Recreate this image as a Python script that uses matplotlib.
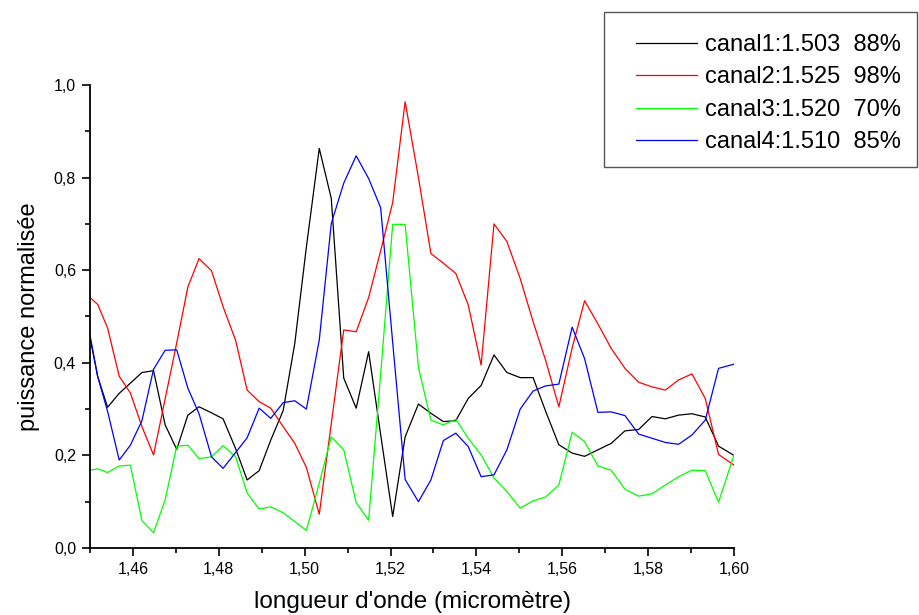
import matplotlib
matplotlib.use("Agg")
import matplotlib.pyplot as plt
from matplotlib.patches import Rectangle
from matplotlib.ticker import MultipleLocator, FixedLocator, FuncFormatter

plt.rcParams['font.family'] = ['Liberation Sans', 'DejaVu Sans']

wavelength = [1.4500, 1.4518, 1.4541, 1.4568, 1.4594, 1.4621, 1.4648, 1.4675, 1.4702, 1.4728,
              1.4754, 1.4783, 1.4810, 1.4839, 1.4866, 1.4894, 1.4921, 1.4950, 1.4977, 1.5004,
              1.5034, 1.5062, 1.5091, 1.5120, 1.5149, 1.5177, 1.5205, 1.5234, 1.5265, 1.5294,
              1.5323, 1.5352, 1.5381, 1.5411, 1.5441, 1.5471, 1.5502, 1.5532, 1.5561, 1.5592,
              1.5623, 1.5652, 1.5683, 1.5714, 1.5746, 1.5778, 1.5809, 1.5840, 1.5871, 1.5902,
              1.5933, 1.5964, 1.6000]

canal1 = [0.454, 0.370, 0.304, 0.334, 0.356, 0.379, 0.383, 0.266, 0.213, 0.287,
          0.305, 0.292, 0.279, 0.215, 0.147, 0.167, 0.233, 0.297, 0.442, 0.650,
          0.863, 0.755, 0.367, 0.302, 0.424, 0.245, 0.068, 0.240, 0.311, 0.291,
          0.273, 0.275, 0.323, 0.351, 0.417, 0.379, 0.368, 0.368, 0.296, 0.223,
          0.205, 0.198, 0.212, 0.226, 0.253, 0.256, 0.284, 0.279, 0.287, 0.290,
          0.283, 0.220, 0.200]

canal2 = [0.541, 0.526, 0.475, 0.371, 0.335, 0.262, 0.201, 0.322, 0.443, 0.564,
          0.625, 0.599, 0.521, 0.449, 0.341, 0.316, 0.302, 0.262, 0.226, 0.174,
          0.073, 0.269, 0.471, 0.467, 0.541, 0.642, 0.746, 0.964, 0.800, 0.636,
          0.615, 0.593, 0.525, 0.395, 0.700, 0.662, 0.582, 0.489, 0.406, 0.305,
          0.432, 0.534, 0.484, 0.431, 0.388, 0.358, 0.348, 0.341, 0.363, 0.376,
          0.323, 0.202, 0.179]

canal3 = [0.168, 0.171, 0.163, 0.177, 0.179, 0.059, 0.033, 0.104, 0.220, 0.222,
          0.193, 0.197, 0.221, 0.197, 0.119, 0.084, 0.089, 0.076, 0.057, 0.038,
          0.140, 0.240, 0.212, 0.098, 0.060, 0.376, 0.699, 0.699, 0.390, 0.276,
          0.266, 0.278, 0.237, 0.201, 0.151, 0.122, 0.086, 0.102, 0.110, 0.136,
          0.250, 0.230, 0.177, 0.168, 0.127, 0.112, 0.117, 0.136, 0.154, 0.168,
          0.167, 0.099, 0.201]

canal4 = [0.460, 0.370, 0.295, 0.190, 0.222, 0.275, 0.386, 0.427, 0.428, 0.345,
          0.290, 0.197, 0.172, 0.206, 0.238, 0.302, 0.280, 0.314, 0.318, 0.300,
          0.449, 0.701, 0.788, 0.847, 0.798, 0.735, 0.444, 0.148, 0.100, 0.147,
          0.232, 0.248, 0.219, 0.154, 0.158, 0.212, 0.300, 0.339, 0.350, 0.354,
          0.477, 0.409, 0.293, 0.294, 0.286, 0.246, 0.237, 0.228, 0.224, 0.244,
          0.276, 0.388, 0.397]

labels = ["canal1:1.503  88%", "canal2:1.525  98%", "canal3:1.520  70%", "canal4:1.510  85%"]
colors = ["#000000", "#ff0000", "#00ff00", "#0000ff"]
x_major = [1.46, 1.48, 1.50, 1.52, 1.54, 1.56, 1.58, 1.60]
x_minor = [1.45, 1.47, 1.49, 1.51, 1.53, 1.55, 1.57, 1.59]

W, H = 919, 615
fig = plt.figure(figsize=(W/100, H/100), dpi=100)
ax = fig.add_axes([90/W, 1 - 548/H, (734-90)/W, (548-85)/H])

lines = []
for ys, c, lab in zip([canal1, canal2, canal3, canal4], colors, labels):
    ln, = ax.plot(wavelength, ys, color=c, lw=0.9, label=lab)
    lines.append(ln)

ax.set_xlim(1.45, 1.60)
ax.set_ylim(0.0, 1.0)
ax.spines['top'].set_visible(False)
ax.spines['right'].set_visible(False)
for s in ('left', 'bottom'):
    ax.spines[s].set_linewidth(1.3)

ax.xaxis.set_major_locator(FixedLocator(x_major))
ax.xaxis.set_minor_locator(FixedLocator(x_minor))
ax.yaxis.set_major_locator(MultipleLocator(0.2))
ax.yaxis.set_minor_locator(MultipleLocator(0.1))
ax.xaxis.set_major_formatter(FuncFormatter(lambda v, p: f"{v:.2f}".replace('.', ',')))
ax.yaxis.set_major_formatter(FuncFormatter(lambda v, p: f"{v:.1f}".replace('.', ',')))
ax.tick_params(which='major', direction='out', length=6, width=1.2, labelsize=11.5, pad=4)
ax.tick_params(which='minor', direction='out', length=3.5, width=1.2)

ax.set_xlabel("longueur d'onde (micromètre)", fontsize=17.5, labelpad=10)
ax.set_ylabel("puissance normalisée", fontsize=17, labelpad=10)

# legend frame
fig.patches.append(Rectangle((604/W, 1 - 167/H), (917-604)/W, (167-12)/H,
                             transform=fig.transFigure, fill=False,
                             edgecolor='#555555', linewidth=1.0))
leg = fig.legend(lines, labels, loc='upper left', bbox_to_anchor=(636/W, 1 - 34/H),
                 fontsize=17, frameon=False, handlelength=2.6,
                 handletextpad=0.32, borderpad=0, labelspacing=0.44, borderaxespad=0)

fig.savefig("out.png", dpi=100)
